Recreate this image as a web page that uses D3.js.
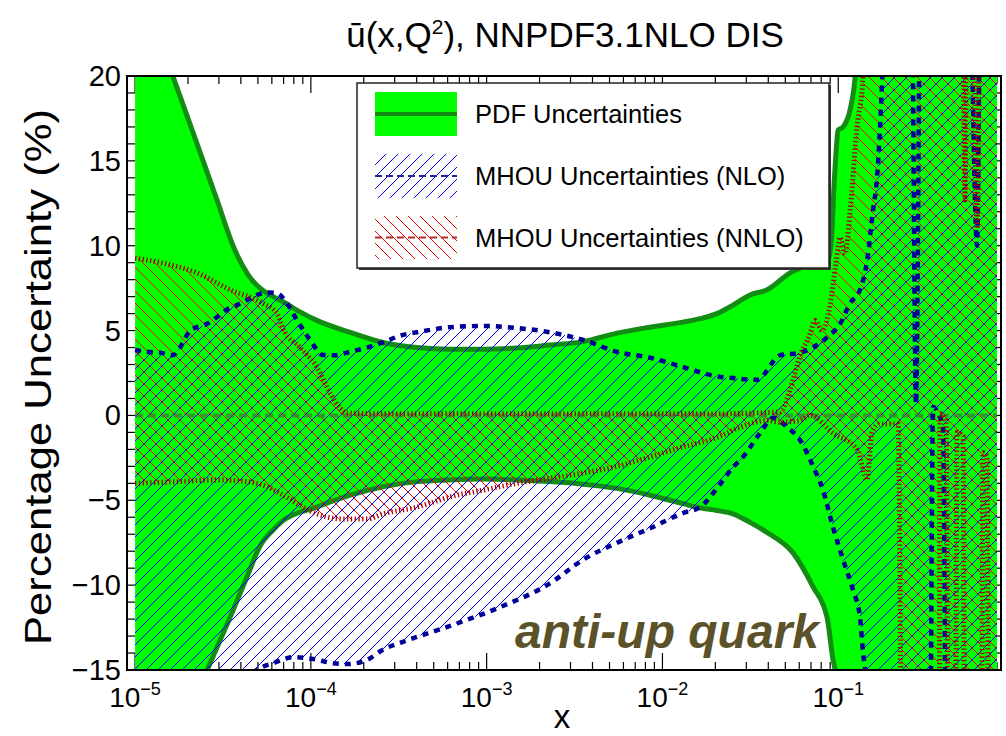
<!DOCTYPE html>
<html>
<head>
<meta charset="utf-8">
<script src="https://cdn.jsdelivr.net/npm/d3@7"></script>
<style>
  html, body { margin: 0; padding: 0; background: #fff; }
  svg { display: block; font-family: "Liberation Sans", Arial, Helvetica, sans-serif; }
</style>
</head>
<body>
<svg id="chart" width="1006" height="736"></svg>
<script>
// ---- Data: [x, percentage uncertainty] ----
const pdfUpper = [[1.00e-5,26],[1.22e-5,23.5],[1.64e-5,20],[2.00e-5,17.5],[2.44e-5,15],[2.97e-5,12.5],[3.61e-5,10],[4.39e-5,8.3],[5.14e-5,7.5],[5.86e-5,7.1],[6.95e-5,6.7],[8.68e-5,6.1],[1.08e-4,5.6],[1.67e-4,4.9],[2.57e-4,4.3],[4.02e-4,4.0],[6.19e-4,3.9],[9.54e-4,3.9],[1.49e-3,3.97],[2.29e-3,4.15],[3.54e-3,4.35],[5.52e-3,4.85],[8.50e-3,5.2],[1.31e-2,5.5],[1.64e-2,5.7],[2.04e-2,6.0],[2.52e-2,6.5],[3.15e-2,7.1],[3.94e-2,7.4],[5.32e-2,8.4],[6.91e-2,8.9],[8.87e-2,9.3],[9.22e-2,11.0],[9.46e-2,13.5],[9.72e-2,15.5],[9.97e-2,16.8],[0.1065,17.0],[0.1167,18.0],[0.1246,19.9],[0.1330,25],[0.1477,30],[0.25,30],[0.5,30],[0.80,30]];
const pdfLower = [[1.00e-5,-26],[1.58e-5,-20],[2.57e-5,-15],[3.47e-5,-11.9],[4.34e-5,-9.5],[5.14e-5,-7.7],[6.10e-5,-6.75],[6.95e-5,-6.2],[1.08e-4,-5.4],[1.67e-4,-4.7],[2.57e-4,-4.2],[4.02e-4,-3.9],[6.19e-4,-3.8],[9.54e-4,-3.75],[1.49e-3,-3.8],[2.29e-3,-3.9],[3.54e-3,-4.05],[5.52e-3,-4.3],[8.50e-3,-4.7],[1.31e-2,-5.2],[1.64e-2,-5.45],[2.04e-2,-5.6],[2.52e-2,-5.8],[3.15e-2,-6.3],[3.94e-2,-6.9],[5.53e-2,-8.1],[7.19e-2,-10.1],[8.64e-2,-11.9],[9.34e-2,-14.4],[9.59e-2,-15],[0.1024,-20],[0.1167,-30],[0.25,-30],[0.5,-30],[0.80,-30]];

const nloUpper = [[1.00e-5,3.85],[1.17e-5,3.75],[1.39e-5,3.7],[1.64e-5,3.55],[1.80e-5,4.0],[2.06e-5,5.0],[2.57e-5,5.4],[2.93e-5,5.8],[3.34e-5,6.25],[3.80e-5,6.5],[4.34e-5,6.8],[4.94e-5,7.1],[5.71e-5,7.25],[6.42e-5,7.2],[7.32e-5,6.6],[8.35e-5,5.6],[9.90e-5,4.45],[1.17e-4,3.56],[1.37e-4,3.55],[1.67e-4,3.75],[2.09e-4,4.0],[2.57e-4,4.3],[3.22e-4,4.7],[4.02e-4,4.9],[6.19e-4,5.2],[9.54e-4,5.27],[1.49e-3,5.15],[2.29e-3,4.9],[3.54e-3,4.45],[5.52e-3,3.75],[8.50e-3,3.4],[1.31e-2,2.85],[2.04e-2,2.3],[2.52e-2,2.2],[3.45e-2,2.1],[4.67e-2,3.55],[6.06e-2,3.7],[8.64e-2,4.6],[0.1024,5.4],[0.1167,6.6],[0.1330,7.4],[0.1458,9.1],[0.1578,12.1],[0.1662,14],[0.1729,17],[0.1798,21],[0.1971,30],[0.2595,30],[0.2770,0.7],[0.2958,30],[0.5474,30],[0.6160,10],[0.6490,30],[0.8003,30]];
const nloLower = [[1.00e-5,-25],[3.04e-5,-18],[4.94e-5,-15],[6.10e-5,-14.6],[7.92e-5,-14.25],[1.03e-4,-14.35],[1.34e-4,-14.6],[1.61e-4,-14.65],[2.09e-4,-14.4],[2.57e-4,-13.8],[3.22e-4,-13.4],[6.19e-4,-12.4],[1.19e-3,-11.3],[2.29e-3,-9.9],[3.54e-3,-8.5],[5.52e-3,-7.5],[8.50e-3,-6.65],[1.31e-2,-5.75],[1.64e-2,-5.4],[2.04e-2,-4.3],[2.52e-2,-3.05],[2.87e-2,-2.45],[3.59e-2,-1.05],[4.26e-2,-0.15],[5.11e-2,-0.68],[6.06e-2,-1.45],[7.19e-2,-3.0],[8.19e-2,-4.4],[9.34e-2,-6.6],[0.1065,-8.5],[0.1214,-10.3],[0.1330,-11.9],[0.1384,-14],[0.1421,-15],[0.1517,-22],[0.1971,-30],[0.3285,-30],[0.3461,0.5],[0.3744,0.0],[0.3946,-0.7],[0.4159,-30],[0.8003,-30]];

const nnloUpper = [[1.00e-5,9.27],[1.44e-5,8.97],[2.25e-5,8.4],[3.47e-5,7.4],[5.35e-5,6.6],[6.42e-5,6.0],[6.95e-5,5.1],[8.68e-5,4.0],[1.08e-4,2.85],[1.29e-4,1.3],[1.47e-4,0.43],[1.61e-4,0.14],[2.57e-4,0.1],[1.0e-3,0.1],[5.0e-3,0.1],[2.0e-2,0.1],[4.67e-2,0.2],[5.32e-2,1.5],[6.06e-2,3.5],[6.91e-2,4.8],[7.38e-2,5.6],[8.09e-2,5.0],[8.98e-2,6.5],[9.72e-2,9],[0.1024,10.5],[0.1093,9.5],[0.1167,12],[0.1279,17],[0.1384,20],[0.1477,30],[0.5060,30],[0.5264,12.7],[0.5404,30],[0.5768,30],[0.6160,11],[0.6490,30],[0.8003,30]];
const nnloLower = [[1.00e-5,-4.0],[1.80e-5,-3.9],[2.78e-5,-3.8],[4.34e-5,-3.9],[5.63e-5,-4.2],[6.95e-5,-4.7],[1.08e-4,-5.8],[1.52e-4,-6.1],[2.09e-4,-6.1],[2.57e-4,-5.8],[4.02e-4,-5.4],[6.19e-4,-4.8],[9.54e-4,-4.4],[1.49e-3,-4.0],[2.29e-3,-3.7],[3.54e-3,-3.4],[5.52e-3,-3.0],[8.50e-3,-2.45],[1.31e-2,-1.85],[1.64e-2,-1.6],[2.04e-2,-1.3],[2.76e-2,-0.7],[3.94e-2,-0.3],[4.67e-2,-0.4],[6.06e-2,-0.3],[6.91e-2,0],[9.34e-2,-1.05],[0.1279,-2.0],[0.1458,-3.8],[0.1557,-1.0],[0.1729,-0.5],[0.2189,-0.5],[0.2336,-30],[0.3744,-30],[0.3794,0.1],[0.4104,-0.3],[0.4269,-30],[0.4617,-30],[0.4740,-1.0],[0.5128,-1.2],[0.5264,-30],[0.6490,-30],[0.6663,-2.2],[0.7023,-2.4],[0.7210,-30],[0.8003,-30]];

// ---- Axis ticks and labels ----
const xDecades = [-5, -4, -3, -2, -1];
const xMinorMult = [2, 3, 4, 5, 6, 7, 8, 9];
const yMajor = [-15, -10, -5, 0, 5, 10, 15, 20];
const yMinorStep = 1;

const titleMain = "ū(x,Q";
const titleSup = "2";
const titleRest = "), NNPDF3.1NLO DIS";
const xTitle = "x";
const yTitle = "Percentage Uncertainty (%)";
const tagText = "anti-up quark";
const legendLabels = ["PDF Uncertainties", "MHOU Uncertainties (NLO)", "MHOU Uncertainties (NNLO)"];

// ---- Layout ----
const frame = { l: 127, r: 1001, t: 76, b: 670 };
const svg = d3.select("#chart");
const defs = svg.append("defs");

const x = d3.scaleLog().domain([9.0e-6, 0.843]).range([frame.l, frame.r]);
const y = d3.scaleLinear().domain([-15, 20]).range([frame.b, frame.t]);

const C = {
  pdfFill: "#00ff00", pdfLine: "#128c12", central: "#3f7f3a",
  nloHatch: "#0000ff", nloLine: "#000099",
  nnloHatch: "#ff0000", nnloLine: "#a40000",
  tag: "#5b5229"
};

defs.append("clipPath").attr("id", "plotClip")
  .append("rect").attr("x", frame.l).attr("y", frame.t)
  .attr("width", frame.r - frame.l).attr("height", frame.b - frame.t);

// 45-degree single-pixel hatching, 12 px apart
function hatch(id, color, rising) {
  const p = defs.append("pattern").attr("id", id)
    .attr("patternUnits", "userSpaceOnUse").attr("width", 12).attr("height", 12);
  p.append("path")
    .attr("d", rising ? "M-3,3L3,-3M0,12L12,0M9,15L15,9" : "M-3,9L3,15M0,0L12,12M9,-3L15,3")
    .attr("stroke", color).attr("stroke-width", 1).attr("fill", "none")
    .attr("shape-rendering", "crispEdges");
}
hatch("hatchNLO", C.nloHatch, true);
hatch("hatchNNLO", C.nnloHatch, false);

const curve = d3.curveMonotoneX;
const line = d3.line().x(d => x(d[0])).y(d => y(d[1])).curve(curve);
const above = d3.area().x(d => x(d[0])).y0(-3000).y1(d => y(d[1])).curve(curve);
const below = d3.area().x(d => x(d[0])).y0(3000).y1(d => y(d[1])).curve(curve);

// ---- Ticks (drawn first so the bands cover them) ----
const ticks = svg.append("g").attr("stroke", "#000").attr("stroke-width", 1.2);
const majLen = 17, minLen = 8;
const xMinor = [];
xDecades.forEach(e => xMinorMult.forEach(m => { const v = m * Math.pow(10, e); if (v < x.domain()[1]) xMinor.push(v); }));
xDecades.forEach(e => {
  const px = x(Math.pow(10, e));
  ticks.append("line").attr("x1", px).attr("x2", px).attr("y1", frame.b).attr("y2", frame.b - majLen);
  ticks.append("line").attr("x1", px).attr("x2", px).attr("y1", frame.t).attr("y2", frame.t + majLen);
});
xMinor.forEach(v => {
  const px = x(v);
  ticks.append("line").attr("x1", px).attr("x2", px).attr("y1", frame.b).attr("y2", frame.b - minLen);
  ticks.append("line").attr("x1", px).attr("x2", px).attr("y1", frame.t).attr("y2", frame.t + minLen);
});
for (let v = y.domain()[0]; v <= y.domain()[1]; v += yMinorStep) {
  const len = yMajor.includes(v) ? majLen : minLen;
  const py = y(v);
  ticks.append("line").attr("x1", frame.l).attr("x2", frame.l + len).attr("y1", py).attr("y2", py);
  ticks.append("line").attr("x1", frame.r).attr("x2", frame.r - len).attr("y1", py).attr("y2", py);
}

// ---- Bands ----
const plot = svg.append("g").attr("clip-path", "url(#plotClip)");

function band(id, upper, lower, fill) {
  defs.append("clipPath").attr("id", id).append("path").attr("d", above(lower));
  plot.append("path").attr("d", below(upper)).attr("fill", fill).attr("clip-path", `url(#${id})`);
}

band("pdfClip", pdfUpper, pdfLower, C.pdfFill);
[pdfUpper, pdfLower].forEach(b => plot.append("path").attr("d", line(b))
  .attr("fill", "none").attr("stroke", C.pdfLine).attr("stroke-width", 5));

band("nloClip", nloUpper, nloLower, "url(#hatchNLO)");
band("nnloClip", nnloUpper, nnloLower, "url(#hatchNNLO)");

// central value (zero line)
plot.append("line").attr("x1", x(1e-5)).attr("x2", x(0.8003)).attr("y1", y(0)).attr("y2", y(0))
  .attr("stroke", C.central).attr("stroke-width", 4).attr("stroke-dasharray", "8,5").attr("opacity", 0.8);

[nloUpper, nloLower].forEach(b => plot.append("path").attr("d", line(b))
  .attr("fill", "none").attr("stroke", C.nloLine).attr("stroke-width", 4.5).attr("stroke-dasharray", "6,6"));
[nnloUpper, nnloLower].forEach(b => plot.append("path").attr("d", line(b))
  .attr("fill", "none").attr("stroke", C.nnloLine).attr("stroke-width", 5).attr("stroke-dasharray", "1.3,2.5"));

// frame
svg.append("rect").attr("x", frame.l).attr("y", frame.t)
  .attr("width", frame.r - frame.l).attr("height", frame.b - frame.t)
  .attr("fill", "none").attr("stroke", "#000").attr("stroke-width", 2);

// ---- Legend ----
const lg = { x: 357, y: 83, w: 472, h: 185 };
svg.append("rect").attr("x", lg.x + 2).attr("y", lg.y + 2).attr("width", lg.w).attr("height", lg.h).attr("fill", "#333");
svg.append("rect").attr("x", lg.x).attr("y", lg.y).attr("width", lg.w).attr("height", lg.h)
  .attr("fill", "#fff").attr("stroke", "#222").attr("stroke-width", 1.5);

const swX = 375, swW = 82;
const rows = [
  { top: 92, h: 44, fill: C.pdfFill, line: C.pdfLine, lw: 4, dash: null },
  { top: 154, h: 44, fill: "url(#hatchNLO)", line: "#23239a", lw: 2, dash: "7,4" },
  { top: 216, h: 43, fill: "url(#hatchNNLO)", line: "#b02a2a", lw: 2, dash: "7,4" }
];
rows.forEach((r, i) => {
  svg.append("rect").attr("x", swX).attr("y", r.top).attr("width", swW).attr("height", r.h).attr("fill", r.fill);
  const ly = r.top + r.h / 2;
  svg.append("line").attr("x1", swX).attr("x2", swX + swW).attr("y1", ly).attr("y2", ly)
    .attr("stroke", r.line).attr("stroke-width", r.lw).attr("stroke-dasharray", r.dash);
  svg.append("text").attr("x", 475).attr("y", ly + 9).attr("font-size", 25.5).attr("fill", "#000").text(legendLabels[i]);
});

// ---- Tag ----
svg.append("text").attr("x", 515).attr("y", 648).attr("font-size", 48)
  .attr("font-weight", "bold").attr("font-style", "italic").attr("fill", C.tag).text(tagText);

// ---- Axis labels ----
yMajor.forEach(v => {
  svg.append("text").attr("x", 121).attr("y", y(v) + 10).attr("text-anchor", "end")
    .attr("font-size", 29).text(v < 0 ? "\u2212" + Math.abs(v) : String(v));
});
xDecades.forEach(e => {
  const t = svg.append("text").attr("x", x(Math.pow(10, e))).attr("y", 707)
    .attr("text-anchor", "middle").attr("font-size", 28);
  t.append("tspan").text("10");
  t.append("tspan").attr("dy", -12).attr("font-size", 18).text("\u2212" + Math.abs(e));
});
svg.append("text").attr("x", 562).attr("y", 728).attr("text-anchor", "middle").attr("font-size", 33).text(xTitle);
svg.append("text").attr("transform", "translate(51,377) rotate(-90)").attr("text-anchor", "middle")
  .attr("font-size", 36).attr("textLength", 536).attr("lengthAdjust", "spacingAndGlyphs").text(yTitle);

const title = svg.append("text").attr("x", 565).attr("y", 47).attr("text-anchor", "middle").attr("font-size", 35);
title.append("tspan").text(titleMain);
title.append("tspan").attr("dy", -13).attr("font-size", 21).text(titleSup);
title.append("tspan").attr("dy", 13).text(titleRest);
</script>
</body>
</html>
